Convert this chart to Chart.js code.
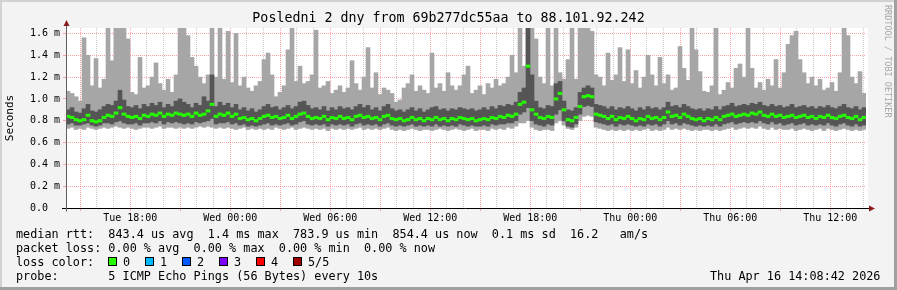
<!DOCTYPE html>
<html>
<head>
<meta charset="utf-8">
<title>Smokeping - Posledni 2 dny</title>
<script src="https://cdn.jsdelivr.net/npm/chart.js@4.4.1/dist/chart.umd.min.js"></script>
<style>
    html, body { margin: 0; padding: 0; background: #f3f3f3; }
    #wrap { position: relative; width: 897px; height: 290px; overflow: hidden; background: #f3f3f3;
            font-family: "DejaVu Sans Mono", monospace; color: #000; }
    #chart { position: absolute; left: 0; top: 0; }
    .edge { position: absolute; }
    .txt { position: absolute; white-space: pre; font-size: 11.8px; line-height: 14px; }
    .box { position: absolute; width: 7px; height: 7px; border: 1px solid #000; }
    #mark { position: absolute; left: 883px; top: 5px; writing-mode: vertical-rl; font-size: 8.5px;
            color: #a8a8a8; white-space: pre; }
</style>
</head>
<body>
<div id="wrap">
    <canvas id="chart" width="897" height="290"></canvas>

    <div class="txt" style="left:16px;top:227px">median rtt:  843.4 us avg  1.4 ms max  783.9 us min  854.4 us now  0.1 ms sd  16.2   am/s</div>
    <div class="txt" style="left:16px;top:241px">packet loss: 0.00 % avg  0.00 % max  0.00 % min  0.00 % now</div>
    <div class="txt" style="left:16px;top:255px">loss color:</div>
    <div class="box" style="left:108px;top:257px;background:#26ff00"></div><div class="txt" style="left:123px;top:255px">0</div>
    <div class="box" style="left:145px;top:257px;background:#00b8ff"></div><div class="txt" style="left:160px;top:255px">1</div>
    <div class="box" style="left:182px;top:257px;background:#0059ff"></div><div class="txt" style="left:197px;top:255px">2</div>
    <div class="box" style="left:219px;top:257px;background:#7e00ff"></div><div class="txt" style="left:234px;top:255px">3</div>
    <div class="box" style="left:256px;top:257px;background:#ff0000"></div><div class="txt" style="left:271px;top:255px">4</div>
    <div class="box" style="left:293px;top:257px;background:#a10000"></div><div class="txt" style="left:308px;top:255px">5/5</div>
    <div class="txt" style="left:16px;top:269px">probe:       5 ICMP Echo Pings (56 Bytes) every 10s</div>
    <div class="txt" style="left:710px;top:269px">Thu Apr 16 14:08:42 2026</div>
    <div id="mark">RRDTOOL / TOBI OETIKER</div>

    <div class="edge" style="left:0;top:0;width:897px;height:2px;background:#d2d2d2"></div>
    <div class="edge" style="left:0;top:0;width:2px;height:290px;background:#d2d2d2"></div>
    <div class="edge" style="right:0;top:0;width:3px;height:290px;background:#a0a0a0"></div>
    <div class="edge" style="left:0;bottom:0;width:897px;height:3px;background:#a0a0a0"></div>
</div>

<script>
// sample times: hours counted from Tue 00:00, one sample every 14.4 min
var sampleStart = 14.145;
var sampleStep = 0.24;

// the five pings per sample, sorted (ms)
var maxRtt = [
    1.07,1.05,1.02,0.98,1.56,1.40,1.12,1.37,1.10,1.18,
    1.65,1.35,1.65,1.65,1.65,1.55,1.06,1.04,1.38,1.10,
    1.12,1.20,1.33,1.14,1.08,1.18,1.06,1.22,1.65,1.65,
    1.58,1.38,1.30,1.20,1.14,1.22,1.65,1.20,1.65,1.18,
    1.62,1.15,1.60,1.12,1.20,1.10,1.07,1.12,1.16,1.36,
    1.42,1.22,1.02,1.06,1.12,1.45,1.65,1.16,1.30,1.14,
    1.16,1.22,1.63,1.10,1.12,1.16,1.05,1.08,1.12,1.06,
    1.10,1.35,1.14,1.08,1.20,1.47,1.10,1.24,1.04,1.10,
    1.08,1.05,0.97,0.99,1.10,1.14,1.22,1.07,1.12,1.08,
    1.05,1.42,1.10,1.14,1.07,1.24,1.12,1.08,1.12,1.22,
    1.30,1.05,1.08,1.12,1.04,1.14,1.10,1.18,1.12,1.14,
    1.20,1.40,1.24,1.65,1.30,1.65,1.65,1.55,1.20,1.14,
    1.65,1.12,1.65,1.24,1.18,1.36,1.65,1.18,1.65,1.65,
    1.65,1.62,1.22,1.20,1.12,1.42,1.17,1.22,1.47,1.16,
    1.45,1.14,1.26,1.10,1.20,1.40,1.22,1.12,1.38,1.14,
    1.22,1.08,1.10,1.48,1.28,1.17,1.65,1.45,1.25,1.07,
    1.06,1.12,1.65,1.04,1.08,1.15,1.10,1.28,1.32,1.20,
    1.65,1.28,1.10,1.15,1.08,1.18,1.12,1.36,1.10,1.24,
    1.50,1.58,1.62,1.36,1.24,1.14,1.20,1.12,1.18,1.08,
    1.10,1.15,1.07,1.24,1.65,1.58,1.20,1.14,1.25,1.05
];
var upperRtt = [
    0.90,0.92,0.88,0.87,0.91,0.95,0.89,0.88,0.90,0.93,
    0.95,0.94,0.98,1.08,0.99,0.93,0.92,0.94,0.91,0.95,
    0.93,0.96,0.94,0.97,0.92,0.95,0.93,0.98,1.00,0.97,
    0.95,0.92,0.96,0.94,1.02,0.98,1.22,0.93,0.97,0.94,
    0.96,0.92,0.95,0.90,0.92,0.89,0.91,0.88,0.90,0.93,
    0.95,0.92,0.93,0.90,0.92,0.94,0.91,0.93,0.97,0.98,
    0.94,0.91,0.92,0.90,0.93,0.89,0.92,0.90,0.93,0.91,
    0.92,0.90,0.93,0.95,0.92,0.94,0.90,0.92,0.89,0.93,
    0.95,0.91,0.89,0.90,0.88,0.90,0.92,0.89,0.91,0.88,
    0.90,0.92,0.93,0.90,0.91,0.89,0.91,0.90,0.92,0.91,
    0.90,0.91,0.89,0.90,0.92,0.90,0.93,0.91,0.94,0.93,
    0.95,0.94,0.97,1.06,1.10,1.65,1.22,0.98,0.92,0.91,
    0.94,0.93,1.14,1.16,0.98,0.90,0.89,0.92,1.06,1.10,
    1.12,1.10,0.95,0.94,0.93,0.91,0.93,0.90,0.92,0.91,
    0.93,0.91,0.89,0.92,0.90,0.93,0.91,0.92,0.90,0.92,
    0.97,0.93,0.94,0.92,0.95,0.93,0.91,0.90,0.91,0.89,
    0.91,0.90,0.93,0.90,0.93,0.94,0.96,0.93,0.94,0.95,
    0.94,0.96,0.95,0.97,0.94,0.93,0.95,0.93,0.94,0.92,
    0.93,0.95,0.92,0.93,0.94,0.92,0.93,0.91,0.93,0.92,
    0.94,0.92,0.91,0.93,0.95,0.92,0.91,0.93,0.90,0.92
];
var medianRtt = [
    0.84,0.83,0.81,0.80,0.81,0.85,0.80,0.79,0.80,0.83,
    0.85,0.84,0.87,0.92,0.86,0.84,0.83,0.84,0.82,0.85,
    0.84,0.86,0.85,0.87,0.84,0.86,0.85,0.87,0.86,0.85,
    0.86,0.84,0.87,0.85,0.86,0.89,0.95,0.84,0.86,0.85,
    0.87,0.84,0.86,0.82,0.83,0.81,0.82,0.80,0.82,0.84,
    0.85,0.83,0.84,0.82,0.83,0.85,0.82,0.84,0.86,0.87,
    0.84,0.82,0.83,0.82,0.84,0.81,0.83,0.82,0.84,0.82,
    0.83,0.81,0.84,0.85,0.83,0.84,0.82,0.83,0.81,0.84,
    0.85,0.82,0.81,0.82,0.80,0.81,0.83,0.81,0.82,0.80,
    0.82,0.81,0.83,0.81,0.82,0.80,0.82,0.81,0.83,0.82,
    0.81,0.82,0.80,0.81,0.82,0.81,0.83,0.82,0.84,0.83,
    0.85,0.84,0.86,0.95,0.97,1.30,0.90,0.86,0.83,0.82,
    0.84,0.83,1.00,1.05,0.90,0.81,0.80,0.83,0.93,1.02,
    1.03,1.02,0.86,0.85,0.84,0.82,0.84,0.81,0.83,0.82,
    0.84,0.82,0.80,0.82,0.81,0.84,0.82,0.83,0.81,0.83,
    0.88,0.84,0.85,0.83,0.86,0.84,0.82,0.81,0.82,0.80,
    0.82,0.81,0.83,0.81,0.84,0.85,0.86,0.84,0.85,0.86,
    0.85,0.87,0.86,0.88,0.85,0.84,0.86,0.84,0.85,0.83,
    0.84,0.85,0.83,0.84,0.85,0.83,0.84,0.82,0.84,0.83,
    0.85,0.83,0.82,0.84,0.85,0.83,0.82,0.84,0.81,0.83
];
var lowerRtt = [
    0.77,0.78,0.76,0.76,0.77,0.78,0.76,0.75,0.76,0.78,
    0.78,0.77,0.79,0.80,0.78,0.77,0.77,0.78,0.76,0.78,
    0.78,0.79,0.78,0.80,0.77,0.79,0.78,0.79,0.78,0.77,
    0.78,0.77,0.79,0.78,0.79,0.80,0.82,0.77,0.78,0.78,
    0.79,0.77,0.78,0.76,0.77,0.75,0.76,0.75,0.76,0.77,
    0.78,0.76,0.77,0.76,0.77,0.78,0.76,0.77,0.79,0.80,
    0.77,0.76,0.77,0.76,0.77,0.75,0.77,0.76,0.77,0.76,
    0.77,0.75,0.77,0.78,0.76,0.77,0.76,0.77,0.75,0.77,
    0.78,0.76,0.75,0.76,0.75,0.76,0.77,0.75,0.76,0.75,
    0.76,0.75,0.77,0.75,0.76,0.75,0.76,0.75,0.77,0.76,
    0.75,0.76,0.75,0.75,0.76,0.75,0.77,0.76,0.77,0.77,
    0.78,0.78,0.80,0.86,0.88,0.92,0.80,0.77,0.76,0.75,
    0.77,0.76,0.86,0.90,0.80,0.75,0.74,0.77,0.86,0.93,
    0.94,0.93,0.79,0.78,0.77,0.76,0.77,0.75,0.77,0.76,
    0.77,0.76,0.75,0.76,0.75,0.77,0.76,0.77,0.75,0.77,
    0.80,0.77,0.78,0.76,0.78,0.77,0.76,0.75,0.76,0.75,
    0.76,0.75,0.77,0.75,0.77,0.78,0.79,0.77,0.78,0.79,
    0.78,0.79,0.78,0.80,0.78,0.77,0.79,0.77,0.78,0.76,
    0.77,0.78,0.76,0.77,0.78,0.76,0.77,0.76,0.77,0.76,
    0.78,0.76,0.75,0.77,0.78,0.76,0.75,0.77,0.75,0.76
];
var minRtt = [
    0.73,0.74,0.72,0.73,0.72,0.74,0.73,0.72,0.73,0.74,
    0.73,0.74,0.75,0.74,0.73,0.74,0.73,0.72,0.73,0.74,
    0.74,0.73,0.74,0.75,0.73,0.74,0.74,0.73,0.74,0.73,
    0.74,0.73,0.74,0.75,0.74,0.75,0.74,0.73,0.74,0.73,
    0.74,0.73,0.72,0.73,0.74,0.72,0.73,0.72,0.73,0.72,
    0.73,0.72,0.74,0.73,0.72,0.73,0.74,0.72,0.73,0.74,
    0.73,0.72,0.73,0.72,0.73,0.71,0.73,0.72,0.73,0.72,
    0.73,0.72,0.73,0.74,0.72,0.73,0.72,0.73,0.72,0.73,
    0.74,0.72,0.71,0.72,0.71,0.72,0.73,0.72,0.71,0.72,
    0.72,0.71,0.72,0.73,0.72,0.71,0.72,0.73,0.72,0.71,
    0.72,0.73,0.71,0.72,0.72,0.71,0.73,0.72,0.73,0.72,
    0.74,0.73,0.75,0.78,0.78,0.80,0.74,0.72,0.71,0.72,
    0.72,0.71,0.78,0.80,0.76,0.73,0.72,0.74,0.80,0.84,
    0.85,0.84,0.74,0.73,0.72,0.71,0.72,0.71,0.72,0.71,
    0.72,0.71,0.72,0.71,0.72,0.73,0.71,0.72,0.71,0.72,
    0.74,0.72,0.73,0.72,0.73,0.72,0.71,0.72,0.71,0.72,
    0.72,0.71,0.72,0.71,0.72,0.73,0.74,0.72,0.73,0.74,
    0.73,0.74,0.73,0.75,0.73,0.72,0.74,0.72,0.73,0.72,
    0.72,0.73,0.71,0.72,0.73,0.72,0.71,0.72,0.73,0.71,
    0.73,0.72,0.71,0.72,0.73,0.72,0.71,0.72,0.71,0.72
];

// axis labels
var timeLabelHours = [18, 24, 30, 36, 42, 48, 54, 60];
var timeLabels = ['Tue 18:00', 'Wed 00:00', 'Wed 06:00', 'Wed 12:00', 'Wed 18:00', 'Thu 00:00', 'Thu 06:00', 'Thu 12:00'];
var yLabelValues = [0, 0.2, 0.4, 0.6, 0.8, 1.0, 1.2, 1.4, 1.6];
var yLabels = ['0.0  ', '0.2 m', '0.4 m', '0.6 m', '0.8 m', '1.0 m', '1.2 m', '1.4 m', '1.6 m'];

!function() {
    "use strict";

    var mono = "'DejaVu Sans Mono', monospace";
    var majorGrid = 'rgba(255, 90, 90, 0.55)';
    var minorGrid = 'rgba(160, 160, 160, 0.55)';

    function sampleTime(i) { return sampleStart + sampleStep * (i + 0.5); }

    // floating bars between two ping rows
    function band(lo, hi) {
        return lo.map(function(v, i) { return {x: sampleTime(i), y: [v, hi[i]]}; });
    }
    // median drawn as a short thick dash
    var medianMarks = medianRtt.map(function(v, i) { return {x: sampleTime(i), y: [v - 0.011, v + 0.011]}; });

    var barStyle = {grouped: false, barThickness: 4, borderWidth: 0, borderSkipped: false};

    // white plot area + rrdtool style axes with arrows
    var rrdFrame = {
        id: 'rrdFrame',
        beforeDraw: function(chart) {
            var a = chart.chartArea, ctx = chart.ctx;
            ctx.save();
            ctx.fillStyle = '#ffffff';
            ctx.fillRect(a.left, a.top, a.right - a.left + 2, a.bottom - a.top);
            ctx.restore();
        },
        afterDraw: function(chart) {
            var a = chart.chartArea, ctx = chart.ctx;
            var y0 = Math.round(chart.scales.y.getPixelForValue(0)) + 0.5;
            var x0 = Math.round(a.left) + 0.5;
            ctx.save();
            ctx.lineWidth = 1;
            ctx.strokeStyle = '#000000';
            ctx.beginPath(); ctx.moveTo(a.left - 4, y0); ctx.lineTo(a.right + 3, y0); ctx.stroke();
            ctx.strokeStyle = '#606060';
            ctx.beginPath(); ctx.moveTo(x0, y0 + 3); ctx.lineTo(x0, a.top - 2); ctx.stroke();
            ctx.fillStyle = '#8b1a1a';
            ctx.beginPath(); ctx.moveTo(a.right + 3, y0 - 3); ctx.lineTo(a.right + 9, y0); ctx.lineTo(a.right + 3, y0 + 3); ctx.fill();
            ctx.beginPath(); ctx.moveTo(x0 - 3, a.top - 2); ctx.lineTo(x0, a.top - 8); ctx.lineTo(x0 + 3, a.top - 2); ctx.fill();
            ctx.restore();
        }
    };

    new Chart(document.getElementById('chart').getContext('2d'), {
        type: 'bar',
        data: {
            datasets: [
                Object.assign({label: 'median', data: medianMarks, backgroundColor: '#26ff00', order: 0}, barStyle),
                Object.assign({label: 'ping 2-4', data: band(lowerRtt, upperRtt), backgroundColor: '#555555', order: 1}, barStyle),
                Object.assign({label: 'ping 1-5', data: band(minRtt, maxRtt), backgroundColor: '#a6a6a6', order: 2}, barStyle)
            ]
        },
        options: {
            responsive: false,
            devicePixelRatio: 1,
            animation: false,
            events: [],
            plugins: {
                legend: {display: false},
                tooltip: {enabled: false},
                title: {
                    display: true,
                    text: 'Posledni 2 dny from 69b277dc55aa to 88.101.92.242',
                    color: '#000',
                    font: {family: mono, size: 13.3, weight: 'normal', lineHeight: '16px'},
                    padding: {top: 11, bottom: 1}
                }
            },
            scales: {
                x: {
                    type: 'linear',
                    min: sampleStart,
                    max: sampleStart + sampleStep * maxRtt.length,
                    offset: false,
                    z: 1,
                    afterFit: function(scale) { scale.height = 82; },
                    afterBuildTicks: function(scale) {
                        var t = [];
                        for (var h = Math.ceil(sampleStart); h < scale.max; h++) t.push({value: h});
                        scale.ticks = t;
                    },
                    grid: {
                        offset: false,
                        drawTicks: true,
                        tickLength: 3,
                        color: function(c) { return c.tick && c.tick.value % 3 === 0 ? majorGrid : minorGrid; },
                        tickColor: function(c) { return c.tick && c.tick.value % 3 === 0 ? majorGrid : 'rgba(0,0,0,0)'; }
                    },
                    border: {display: false, dash: [1, 1]},
                    ticks: {
                        autoSkip: false,
                        maxRotation: 0,
                        padding: 1,
                        color: '#000',
                        font: {family: mono, size: 10},
                        callback: function(v) {
                            var k = timeLabelHours.indexOf(v);
                            return k < 0 ? '' : timeLabels[k];
                        }
                    }
                },
                y: {
                    type: 'linear',
                    min: 0,
                    max: 1.65,
                    z: 1,
                    afterFit: function(scale) { scale.width = 66; },
                    afterBuildTicks: function(scale) {
                        var t = [];
                        for (var k = 0; k <= 16; k++) t.push({value: k / 10});
                        scale.ticks = t;
                    },
                    grid: {
                        drawTicks: true,
                        tickLength: 3,
                        color: function(c) { return c.tick && Math.round(c.tick.value * 10) % 2 === 0 ? majorGrid : minorGrid; },
                        tickColor: function(c) { return c.tick && Math.round(c.tick.value * 10) % 2 === 0 ? majorGrid : minorGrid; }
                    },
                    border: {display: false, dash: [1, 1]},
                    title: {
                        display: true,
                        text: 'Seconds',
                        color: '#000',
                        font: {family: mono, size: 11},
                        padding: {top: 4, bottom: 0}
                    },
                    ticks: {
                        padding: 3,
                        color: '#000',
                        font: {family: mono, size: 10},
                        callback: function(v) {
                            var k = yLabelValues.indexOf(Math.round(v * 10) / 10);
                            return k < 0 ? '' : yLabels[k];
                        }
                    }
                },
                // empty right-hand strip, keeps the title centred on the whole image
                yRight: {
                    type: 'linear',
                    position: 'right',
                    display: true,
                    min: 0,
                    max: 1.65,
                    afterFit: function(scale) { scale.width = 31; },
                    grid: {display: false, drawTicks: false},
                    border: {display: false},
                    ticks: {display: false}
                }
            }
        },
        plugins: [rrdFrame]
    });
}();
</script>
</body>
</html>
